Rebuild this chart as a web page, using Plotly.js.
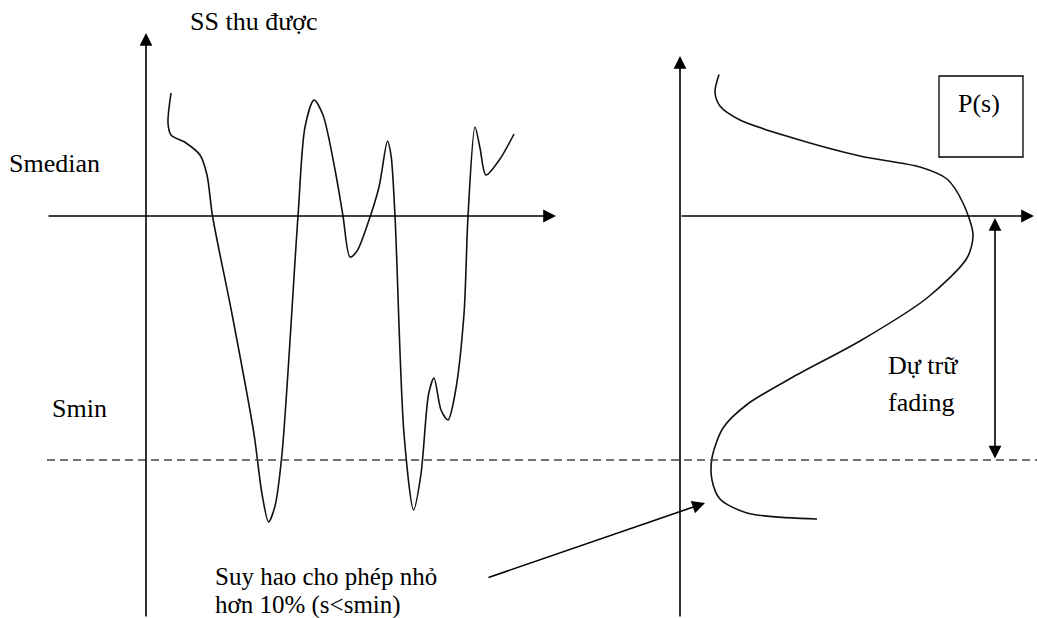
<!DOCTYPE html>
<html><head><meta charset="utf-8">
<script src="https://cdn.plot.ly/plotly-3.0.1.min.js"></script>
<style>html,body{margin:0;padding:0;background:#fff}#c{width:1037px;height:618px}</style>
</head><body><div id="c"></div>
<script>
// Level scale: 0 = Smedian, negative below. Units are diagram units.
const SMEDIAN = 0;
const SMIN = -244;

// Received signal strength over time (left panel)
const ssTime  = [171,168,171,186,200,207,212.5,232,254,262,268.6,275,282,298,305,314,323,336,343,350,357,368,379,387.5,391,395,404,413.6,421,428.6,434,441,448,455,464,468,475,480,486,500,514];
const ssLevel = [123,93,81,73,61,41,0,-98,-218,-278,-306,-290,-238,0,89,116,101,41,0,-41,-35,-7,29,75,61,0,-218,-294,-258,-178,-162,-194,-204,-178,-98,0,89,68,41,57,82];

// Probability density P(s) (right panel), p = horizontal value, s = level
const pdfP     = [719,715,720,740,793,860,920,947,963,973,967,927,860,793,747,723,712,712,720,747,817];
const pdfLevel = [141.5,124,110,96,78,60,49,37,13,-18.6,-42,-82,-125,-161,-188.5,-212,-242,-264,-283,-297,-303];

// Text labels
const labelTexts = ['SS thu được', 'Smedian', 'Smin', 'Dự trữ', 'fading', 'P(s)', 'Suy hao cho phép nhỏ', 'hơn 10% (s&lt;smin)'];

const leftAxisX = 146, rightAxisX = 680;
const black = '#000';

const traces = [
  {x: ssTime, y: ssLevel, mode: 'lines', line: {color: '#111', width: 1.6, shape: 'spline', smoothing: 0.8}, hoverinfo: 'skip'},
  {x: pdfP, y: pdfLevel, mode: 'lines', line: {color: '#111', width: 1.6, shape: 'spline', smoothing: 0.8}, hoverinfo: 'skip'}
];

function label(x, y, text, size, anchor) {
  return {x: x, y: y, xref: 'x', yref: 'y', text: text, showarrow: false, xanchor: anchor || 'left', yanchor: 'middle',
          font: {family: 'Times New Roman', size: size || 26, color: '#000'}};
}
function arr(x0, y0, x1, y1, side) {
  return {x: x1, y: y1, ax: x0, ay: y0, xref: 'x', yref: 'y', axref: 'x', ayref: 'y', text: '', showarrow: true,
          arrowhead: 2, arrowsize: 1.6, arrowwidth: 1.6, arrowcolor: black, arrowside: side || 'end', standoff: 0, startstandoff: 0};
}

const annotations = [
  arr(leftAxisX, -402, leftAxisX, 183),
  arr(47, SMEDIAN, 556, SMEDIAN),
  arr(rightAxisX, -402, rightAxisX, 160),
  arr(rightAxisX, SMEDIAN, 1034, SMEDIAN),
  arr(995, SMIN, 995, SMEDIAN - 2, 'end+start'),
  arr(487, -362, 705, -287),
  label(188, 195, labelTexts[0]),
  label(7, 53, labelTexts[1]),
  label(50, -192, labelTexts[2]),
  label(886, -149, labelTexts[3]),
  label(886, -186, labelTexts[4]),
  label(979, 113, labelTexts[5], 26, 'center'),
  label(213, -360, labelTexts[6], 25),
  label(213, -389, labelTexts[7], 25)
];

const shapes = [
  {type: 'line', xref: 'x', yref: 'y', x0: 47, x1: 1037, y0: SMIN, y1: SMIN, line: {color: '#444', width: 1.6, dash: '8px,5px'}},
  {type: 'rect', xref: 'x', yref: 'y', x0: 939, x1: 1023, y0: 140, y1: 59, line: {color: black, width: 1.3}, fillcolor: 'rgba(0,0,0,0)'}
];

const layout = {
  width: 1037, height: 618,
  margin: {l: 0, r: 0, t: 0, b: 0},
  font: {family: 'Times New Roman', color: '#000'},
  paper_bgcolor: '#fff', plot_bgcolor: '#fff',
  showlegend: false,
  xaxis: {range: [0, 1037], visible: false, fixedrange: true},
  yaxis: {range: [-402, 216], visible: false, fixedrange: true},
  annotations: annotations,
  shapes: shapes
};
Plotly.newPlot('c', traces, layout, {displayModeBar: false, staticPlot: true});
</script>
</body></html>
